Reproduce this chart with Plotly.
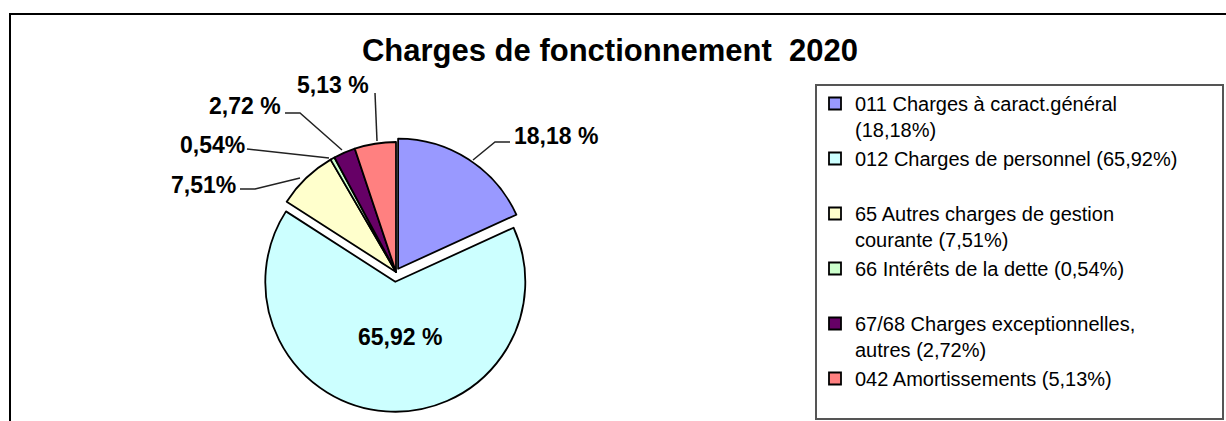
import plotly.graph_objects as go

W, H = 1226, 421

# ---- data ----
categories = [
    "011 Charges à caract.général",
    "012 Charges de personnel",
    "65 Autres charges de gestion courante",
    "66 Intérêts de la dette",
    "67/68 Charges exceptionnelles, autres",
    "042 Amortissements",
]
shares = [18.18, 65.92, 7.51, 0.54, 2.72, 5.13]
legend_text = [
    "011 Charges à caract.général<br>(18,18%)",
    "012 Charges de personnel (65,92%)<br>\u00a0",
    "65 Autres charges de gestion<br>courante (7,51%)",
    "66 Intérêts de la dette (0,54%)<br>\u00a0",
    "67/68 Charges exceptionnelles,<br>autres (2,72%)",
    "042 Amortissements (5,13%)",
]
slice_labels = ["18,18 %", "65,92 %", "7,51%", "0,54%", "2,72 %", "5,13 %"]
colors = ["#9999FF", "#CCFFFF", "#FFFFCC", "#CCFFCC", "#660066", "#FF8080"]
pulls = [0.03, 0.075, 0, 0, 0, 0]
title_text = "Charges de fonctionnement  2020"


def X(x):
    return x / W


def Y(y):
    return 1 - y / H


# pie geometry (pixels)
cx, cy, r = 396, 272, 130
half = r * (1 + max(pulls))

fig = go.Figure(
    go.Pie(
        labels=legend_text,
        values=shares,
        sort=False,
        direction="clockwise",
        rotation=0,
        pull=pulls,
        marker=dict(colors=colors, line=dict(color="#000000", width=1.8)),
        textinfo="none",
        hoverinfo="label+percent",
        domain=dict(x=[X(cx - half), X(cx + half)], y=[Y(cy + half), Y(cy - half)]),
    )
)

# label positions (pixels) and leader lines
label_pos = [(556, 136), (400, 337), (203, 185), (212, 145), (245, 106), (333, 85)]
leaders = [
    [(510, 142), (495, 142), (473, 160)],
    None,
    [(240, 189), (255, 189), (300, 178)],
    [(247, 149), (329, 158)],
    [(285, 113), (300, 113), (342, 150)],
    [(375, 93), (377, 141)],
]

annotations = []
for txt, (lx, ly) in zip(slice_labels, label_pos):
    annotations.append(
        dict(
            text=txt, x=X(lx), y=Y(ly), xref="paper", yref="paper",
            xanchor="center", yanchor="middle", showarrow=False,
            font=dict(family="Liberation Sans, Arial", size=23, color="#000000", weight="bold"),
        )
    )

shapes = []
for pts in leaders:
    if not pts:
        continue
    path = "M " + " L ".join(f"{X(px)},{Y(py)}" for px, py in pts)
    shapes.append(dict(type="path", path=path, xref="paper", yref="paper",
                       line=dict(color="#222222", width=1.5)))

# outer chart border (cut off at right and bottom)
shapes.append(dict(type="rect", xref="paper", yref="paper",
                   x0=X(10), y0=Y(14), x1=X(W + 20), y1=Y(H + 20),
                   line=dict(color="#000000", width=2), layer="below"))
# legend box
shapes.append(dict(type="rect", xref="paper", yref="paper",
                   x0=X(816), y0=Y(85), x1=X(1223), y1=Y(419),
                   line=dict(color="#555555", width=2), layer="below"))

fig.update_layout(
    width=W, height=H, autosize=False,
    margin=dict(l=0, r=0, t=0, b=0),
    paper_bgcolor="#FFFFFF", plot_bgcolor="#FFFFFF",
    font=dict(family="Liberation Sans, Arial", color="#000000"),
    title=dict(text=title_text, x=X(610), xanchor="center", y=Y(50), yanchor="middle",
               font=dict(family="Liberation Sans, Arial", size=31, color="#000000", weight="bold")),
    showlegend=True,
    legend=dict(x=X(815), y=Y(84), xanchor="left", yanchor="top",
                bgcolor="rgba(0,0,0,0)", borderwidth=0, valign="top",
                font=dict(family="Liberation Sans, Arial", size=20, color="#000000"),
                traceorder="normal"),
    annotations=annotations,
    shapes=shapes,
)

fig.write_html(
    "out.html",
    config={"displayModeBar": False},
    post_script="document.body.style.margin='0';document.body.style.overflow='hidden';",
)
